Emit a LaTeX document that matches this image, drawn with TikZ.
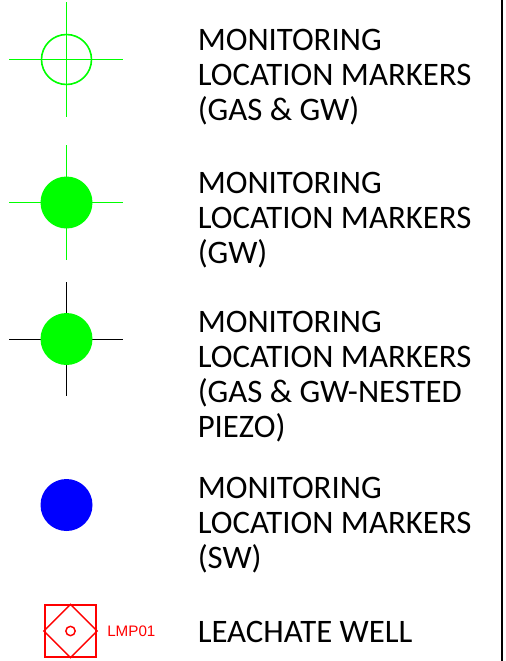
\documentclass[tikz,border=0pt]{standalone}
\usepackage{fontspec}
\setmainfont{Carlito}
\newfontfamily\tagfont{Liberation Sans}
\definecolor{markgreen}{RGB}{0,255,0}
\definecolor{markblue}{RGB}{0,0,255}
\definecolor{markred}{RGB}{255,0,0}
\begin{document}
\begin{tikzpicture}[
        x=0.75pt, y=-0.75pt,
        ring/.style={circle,draw=markgreen,line width=1.2pt,minimum size=37.5pt,inner sep=0pt},
        dot/.style={circle,fill=markgreen,minimum size=39pt,inner sep=0pt},
        hair/.style={line width=1.2pt,draw=markgreen},
        label/.style={anchor=west,align=left,inner sep=0pt,font=\fontsize{24.6}{26.25}\selectfont,text=black}
        ]
        \useasboundingbox (0,0) rectangle (506,661);
        \draw[line width=1.5pt] (501.5,0) -- (501.5,661);
        % crosshair markers
        \node (m1) [ring] at (66.5,59.5) {};
        \draw[hair] (9,59.5) -- (123,59.5);
        \draw[hair] (66.5,2) -- (66.5,117);
        \node (l1) [label] at (197.5,77.5) {MONITORING\\LOCATION MARKERS\\(GAS \& GW)};
        \draw[hair] (9,202.5) -- (123,202.5);
        \draw[hair] (66.5,145) -- (66.5,260);
        \node (m2) [dot] at (66.5,202.5) {};
        \node (l2) [label] at (197.5,220.5) {MONITORING\\LOCATION MARKERS\\(GW)};
        \draw[hair,draw=black] (9,339.5) -- (123,339.5);
        \draw[hair,draw=black] (66.5,282) -- (66.5,396);
        \node (m3) [dot] at (66.5,339) {};
        \node (l3) [label] at (197.5,376.5) {MONITORING\\LOCATION MARKERS\\(GAS \& GW-NESTED\\PIEZO)};
        \node (m4) [dot,fill=markblue] at (66.5,505) {};
        \node (l4) [label] at (197.5,525.5) {MONITORING\\LOCATION MARKERS\\(SW)};
        % leachate well
        \node (well) [rectangle,draw=markred,line width=1.5pt,minimum size=38.5pt,inner sep=0pt] at (70.5,631) {};
        \draw[markred,line width=1.1pt] (well.north) -- (well.east) -- (well.south) -- (well.west) -- cycle;
        \node (eye) [circle,draw=markred,line width=1.1pt,minimum size=7pt,inner sep=0pt] at (70.5,631) {};
        \node (tag) [anchor=west,inner sep=0pt,text=markred,font=\tagfont\fontsize{11.4}{13}\selectfont] at (107,631.5) {LMP01};
        \node (l5) [label] at (197.5,631.5) {LEACHATE WELL};
\end{tikzpicture}
\end{document}
